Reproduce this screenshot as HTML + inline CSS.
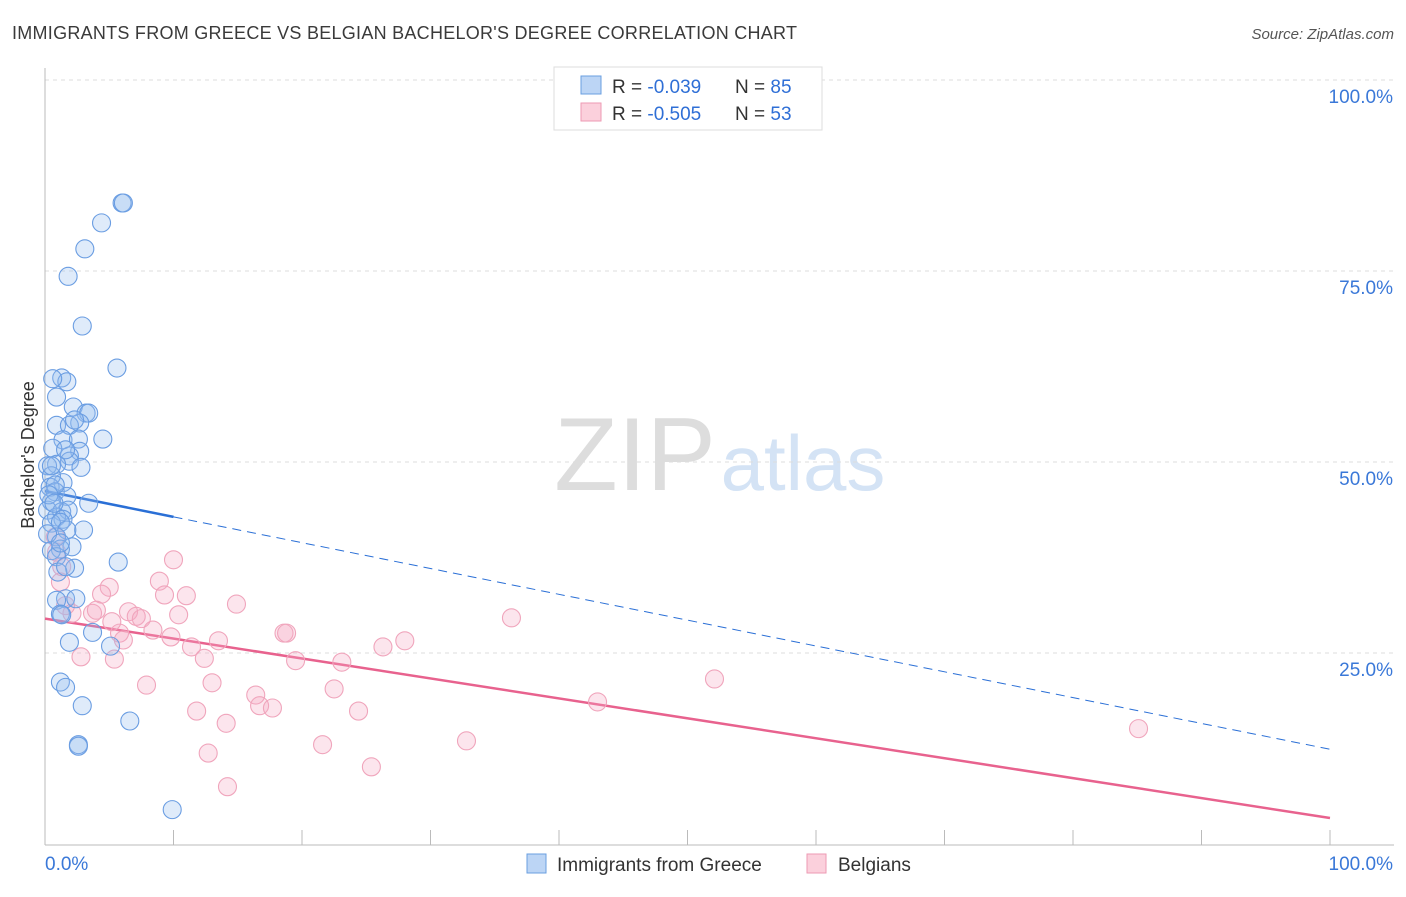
<!DOCTYPE html>
<html><head><meta charset="utf-8">
<style>
body{margin:0;background:#fff;font-family:"Liberation Sans",sans-serif;}
svg text{font-family:"Liberation Sans",sans-serif;}
</style></head>
<body>
<svg id="chart" width="1406" height="892" xmlns="http://www.w3.org/2000/svg">
<text x="12" y="39" font-size="18" fill="#3a3a3a" textLength="785" lengthAdjust="spacing">IMMIGRANTS FROM GREECE VS BELGIAN BACHELOR'S DEGREE CORRELATION CHART</text>
<text x="1394" y="39" font-size="15" font-style="italic" fill="#555" text-anchor="end">Source: ZipAtlas.com</text>
<g>
<text x="635" y="490" font-size="104" font-family="Liberation Serif" fill="#ddd" text-anchor="middle">ZIP</text>
<text x="803" y="490" font-size="78" fill="#d4e3f5" text-anchor="middle">atlas</text>
</g>
<g id="grid"></g>
<g id="axes"></g>
<g id="trend"></g>
<g id="points"></g>
<text transform="translate(34,455) rotate(-90)" font-size="18" fill="#333" text-anchor="middle">Bachelor's Degree</text>
<g>
<rect x="554" y="67" width="268" height="63" fill="#fff" stroke="#ddd"/>
<rect x="581" y="76" width="20" height="18" fill="#bcd5f5" stroke="#6a9fe0"/>
<rect x="581" y="103" width="20" height="18" fill="#fbd0dc" stroke="#ee9ab3"/>
<text x="612" y="93" font-size="19" fill="#333">R = <tspan fill="#2f6fd6">-0.039</tspan>   <tspan x="735">N = </tspan><tspan fill="#2f6fd6">85</tspan></text>
<text x="612" y="120" font-size="19" fill="#333">R = <tspan fill="#2f6fd6">-0.505</tspan>   <tspan x="735">N = </tspan><tspan fill="#2f6fd6">53</tspan></text>
</g>
<g>
<rect x="527" y="854" width="19" height="19" fill="#bcd5f5" stroke="#6a9fe0"/>
<text x="557" y="871" font-size="19" fill="#333">Immigrants from Greece</text>
<rect x="807" y="854" width="19" height="19" fill="#fbd0dc" stroke="#ee9ab3"/>
<text x="838" y="871" font-size="19" fill="#333">Belgians</text>
</g>
</svg>
<script>
const yTicks=[25,50,75,100];
const yTickLabels=["25.0%","50.0%","75.0%","100.0%"];
const xTicks=[10,20,30,40,50,60,70,80,90,100];
const blueX=[6.0,6.1,4.4,3.1,1.8,2.9,5.6,1.3,1.7,0.6,0.9,2.2,3.2,3.4,0.9,2.7,1.9,4.5,1.4,2.6,0.6,2.7,1.9,1.9,2.8,0.9,0.2,1.4,0.5,0.4,0.8,1.7,3.4,0.5,0.2,1.3,1.8,0.9,1.4,0.5,1.2,3.0,1.7,0.9,0.2,2.1,1.2,0.5,0.9,5.7,2.3,1.0,1.6,1.6,0.9,2.4,1.2,1.3,3.7,1.9,5.1,1.2,1.6,2.9,6.6,2.6,2.6,9.9,0.5,0.8,0.3,1.2,0.7,1.6,2.3];
const blueY=[83.9,83.9,81.3,77.9,74.3,67.8,62.3,61.0,60.5,60.9,58.5,57.2,56.4,56.4,54.8,55.1,54.8,53.0,52.9,53.0,51.8,51.4,50.8,50.1,49.3,49.7,49.5,47.3,48.2,46.7,46.1,45.5,44.6,44.8,43.7,43.5,43.7,42.8,42.5,42.0,42.1,41.1,41.1,40.2,40.6,38.9,38.6,38.4,37.6,36.9,36.1,35.6,36.3,32.1,31.9,32.1,30.1,30.0,27.7,26.4,25.9,21.2,20.5,18.1,16.1,13.0,12.8,4.5,49.5,47.0,45.7,39.4,44.6,51.6,55.5];
const pinkX=[10.0,5.0,1.2,8.9,9.3,11.0,4.4,3.7,2.1,6.5,7.1,7.5,10.4,14.9,36.3,5.8,8.4,6.1,9.8,13.5,11.4,18.6,18.8,26.3,28.0,12.4,19.5,23.1,5.4,2.8,13.0,7.9,16.4,22.5,52.1,16.7,17.7,43.0,11.8,24.4,14.1,21.6,32.8,85.1,12.7,25.4,14.2,0.8,1.3,0.9,4.0,5.2,1.6];
const pinkY=[37.2,33.6,34.3,34.4,32.6,32.5,32.7,30.2,30.2,30.4,29.8,29.5,30.0,31.4,29.6,27.6,28.0,26.7,27.1,26.6,25.8,27.6,27.6,25.8,26.6,24.3,24.0,23.8,24.2,24.5,21.1,20.8,19.5,20.3,21.6,18.1,17.8,18.6,17.4,17.4,15.8,13.0,13.5,15.1,11.9,10.1,7.5,40.2,36.3,38.2,30.6,29.1,31.2];
const blueTrend=[46.2,12.4];
const pinkTrend=[29.5,3.4];
const NS="http://www.w3.org/2000/svg";
const X=v=>45+v*12.85, Y=v=>844-v*7.64;
function mk(t,a,p){const e=document.createElementNS(NS,t);for(const k in a)e.setAttribute(k,a[k]);p.appendChild(e);return e;}
const grid=document.getElementById('grid'),axes=document.getElementById('axes');
yTicks.forEach((t,i)=>{
 const l=mk('line',{x1:45,x2:1394,y1:Y(t),y2:Y(t),stroke:'#ddd','stroke-dasharray':'4,4'},grid);
 
 
 const tx=mk('text',{x:1393,y:Y(t)+23,'font-size':19,fill:'#3a78d8','text-anchor':'end'},axes);
 tx.textContent=yTickLabels[i];
 
 
});
mk('line',{x1:45,x2:45,y1:68,y2:845,stroke:'#bbb'},axes);
mk('line',{x1:45,x2:1394,y1:845,y2:845,stroke:'#bbb'},axes);
xTicks.forEach(t=>{const l=mk('line',{x1:X(t),x2:X(t),y1:830,y2:845,stroke:'#bbb'},axes);
 
 });
let a=mk('text',{x:45,y:870,'font-size':19,fill:'#3a78d8'},axes);a.textContent='0.0%';


a=mk('text',{x:1393,y:870,'font-size':19,fill:'#3a78d8','text-anchor':'end'},axes);a.textContent='100.0%';


const pts=document.getElementById('points');
pinkX.forEach((x,i)=>{const c=mk('circle',{cx:X(x),cy:Y(pinkY[i]),r:9,fill:'rgba(246,170,195,0.3)',stroke:'#f0a5bc','stroke-width':1.1},pts);
 
 });
blueX.forEach((x,i)=>{const c=mk('circle',{cx:X(x),cy:Y(blueY[i]),r:9,fill:'rgba(150,190,240,0.3)',stroke:'#6a9de2','stroke-width':1.1},pts);
 
 });
const tr=document.getElementById('trend');
const by=x=>blueTrend[0]+(blueTrend[1]-blueTrend[0])*x/100;
let t1=mk('line',{x1:X(0),y1:Y(by(0)),x2:X(10),y2:Y(by(10)),stroke:'#2a6fd6','stroke-width':2.5},tr);


t1=mk('line',{x1:X(10),y1:Y(by(10)),x2:X(100),y2:Y(by(100)),stroke:'#2a6fd6','stroke-width':1,'stroke-dasharray':'9,6'},tr);


t1=mk('line',{x1:X(0),y1:Y(pinkTrend[0]),x2:X(100),y2:Y(pinkTrend[1]),stroke:'#e8628e','stroke-width':2.5},tr);


</script>
</body></html>
